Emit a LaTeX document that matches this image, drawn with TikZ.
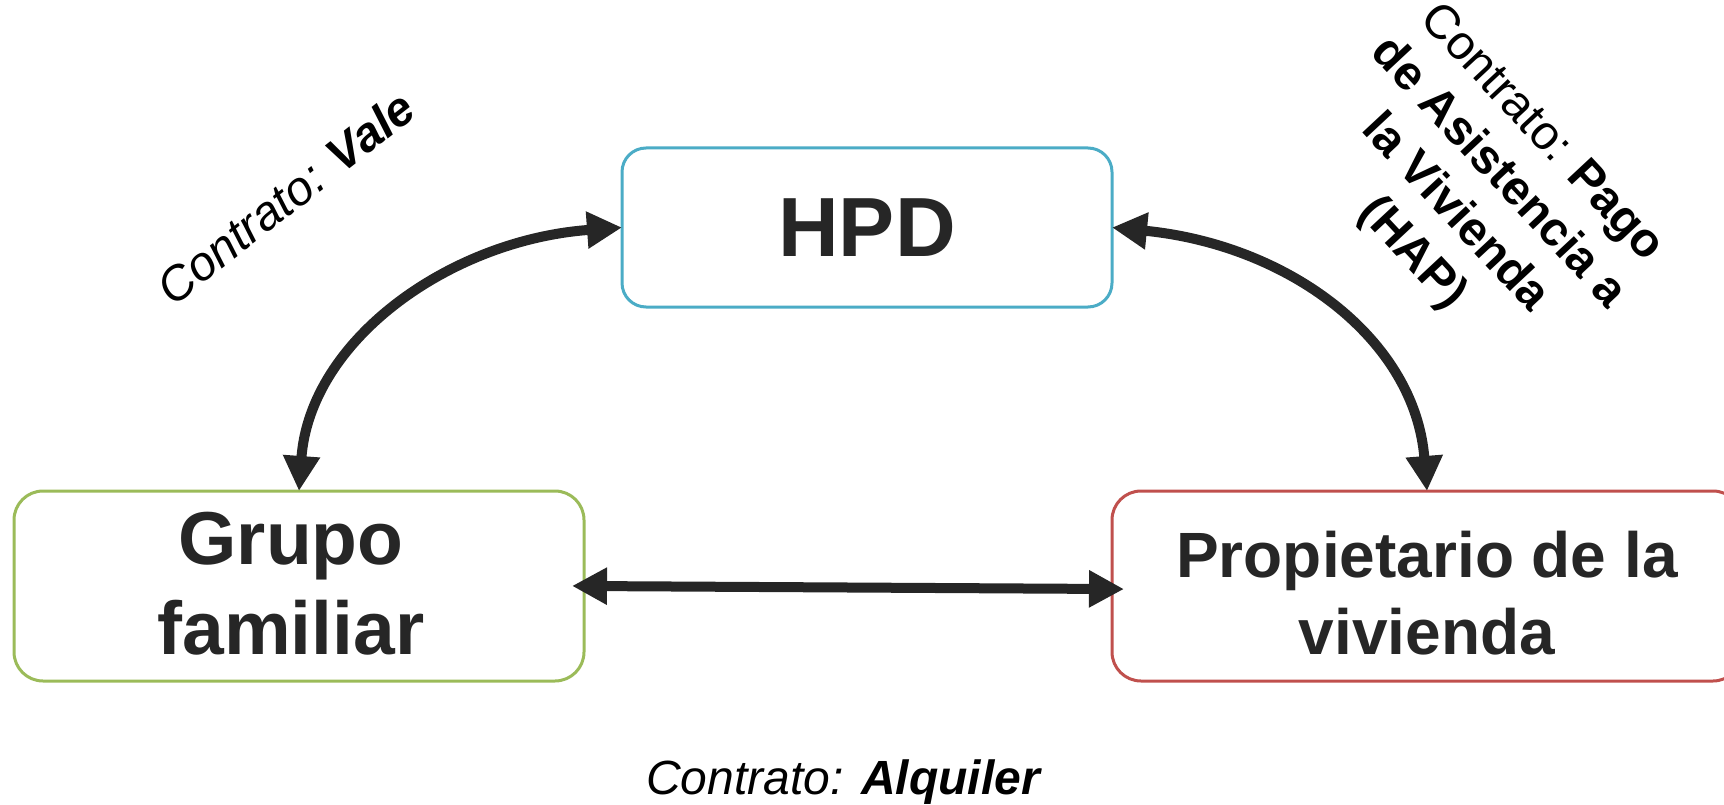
\documentclass[tikz,border=0pt]{standalone}
\usepackage{fontspec}
\setmainfont{Liberation Sans}
\usetikzlibrary{arrows.meta}
\definecolor{arr}{HTML}{262626}
\definecolor{hpdc}{HTML}{4BACC6}
\definecolor{grpc}{HTML}{9BBB59}
\definecolor{prpc}{HTML}{C0504D}
\begin{document}
\begin{tikzpicture}[x=1pt,y=-1pt,
  box/.style={draw, line width=3pt, rounded corners=#1, fill=white, outer sep=0pt, inner sep=0pt, align=center, text=arr},
  conn/.style={draw=arr, line width=10pt, {Triangle[length=35pt,width=35pt]}-{Triangle[length=35pt,width=35pt]}},
  lbl/.style={text=black, inner sep=0pt, font=\fontsize{48}{59}\selectfont, align=center}]
\useasboundingbox (0,0) rectangle (1724,805);

\node[box=24, draw=hpdc, minimum width=490pt, minimum height=159pt, font=\bfseries\fontsize{84}{100}\selectfont] (hpd) at (867,227.5) {HPD};
\node[box=29, draw=grpc, minimum width=570pt, minimum height=190pt, font=\bfseries\fontsize{75}{90}\selectfont] (grupo) at (299,586) {Grupo\hspace*{16pt}\\familiar\hspace*{16pt}\rule[-6pt]{0pt}{0pt}};
\node[box=29, draw=prpc, minimum width=630pt, minimum height=190pt, font=\bfseries\fontsize{64}{77}\selectfont] (prop) at (1427,586) {\rule{0pt}{61pt}Propietario de la\\vivienda};

\node[lbl, rotate=38, anchor=base] (vale) at (296,211) {\itshape Contrato: \textbf{Vale}};
\node[lbl, rotate=-47] (hap) at (1476,194) {Contrato: \textbf{Pago}\\\textbf{de Asistencia a}\\\textbf{la Vivienda}\\\textbf{(HAP)}};
\node[lbl, anchor=base] (alq) at (843,794) {\itshape Contrato: \textbf{Alquiler}};

\draw[conn] (grupo.north) .. controls (310,340) and (450,240) .. (hpd.west);
\draw[conn] (hpd.east) .. controls (1290,245) and (1415,340) .. (prop.north);
\draw[conn, shorten <=-12pt, shorten >=-12pt] (grupo.east) -- ([yshift=-3pt]prop.west);
\end{tikzpicture}
\end{document}
